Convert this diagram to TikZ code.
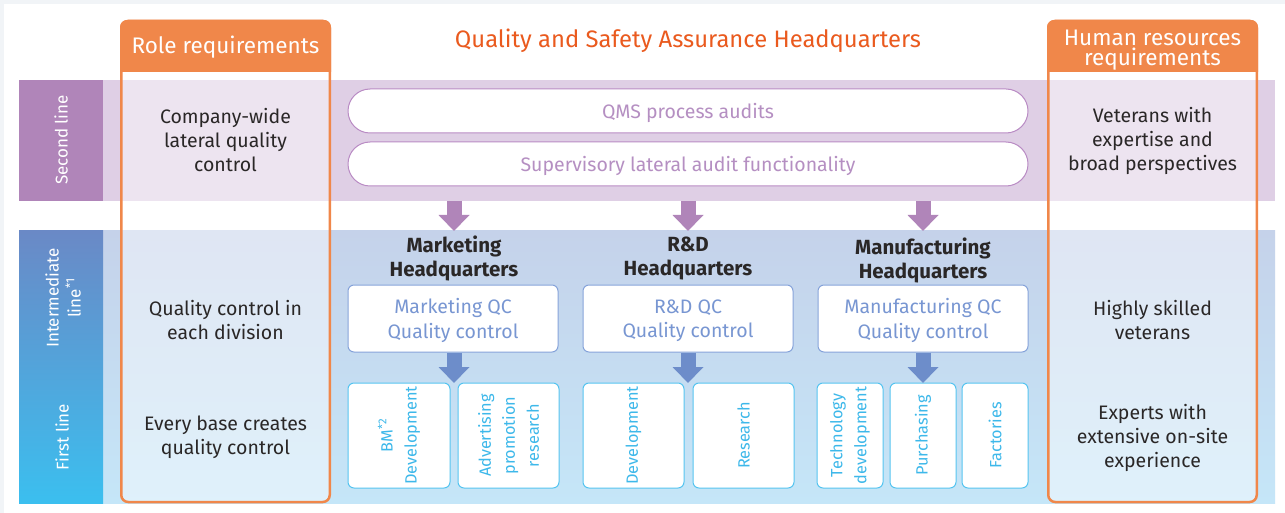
\documentclass[tikz,border=0pt]{standalone}
\usepackage{fontspec}
\setmainfont{Fira Sans}
\usetikzlibrary{arrows.meta}
\definecolor{bgGray}{HTML}{F1F4F7}
\definecolor{orangeC}{HTML}{F0874A}
\definecolor{titleC}{HTML}{EA5A1E}
\definecolor{textDark}{HTML}{2A2727}
\definecolor{purpleBand}{HTML}{DFCFE5}
\definecolor{purpleLabel}{HTML}{B085B9}
\definecolor{pillBorder}{HTML}{B98BC4}
\definecolor{pillText}{HTML}{B58FC2}
\definecolor{blueTop}{HTML}{C5D2EA}
\definecolor{blueBot}{HTML}{C5E6F8}
\definecolor{labTop}{HTML}{6A89C6}
\definecolor{labMid}{HTML}{5A9FD8}
\definecolor{labBot}{HTML}{3BBFEF}
\definecolor{qcBorder}{HTML}{86A3DA}
\definecolor{qcText}{HTML}{7896D2}
\definecolor{blueArrow}{HTML}{6D8DCA}
\definecolor{leafBorder}{HTML}{55C4F0}
\definecolor{leafText}{HTML}{3DB8EA}
\begin{document}
\begin{tikzpicture}[x=1pt,y=-1pt,
  bodytext/.style={text=textDark, font=\fontsize{19.5}{24}\selectfont, align=center, inner sep=0pt},
  headtext/.style={text=white, font=\fontsize{22.5}{21}\selectfont, align=center, inner sep=0pt},
  pill/.style={draw=pillBorder, fill=white, line width=1pt, rounded corners=22pt, minimum width=680pt, minimum height=44pt, text=pillText, font=\fontsize{19.5}{22}\selectfont, inner sep=0pt, text depth=-1pt},
  qcbox/.style={draw=qcBorder, fill=white, line width=1pt, rounded corners=6pt, minimum width=210pt, minimum height=67pt, text=qcText, align=center, font=\fontsize{19.5}{24.5}\selectfont, inner sep=0pt, text depth=-2.5pt},
  leafbox/.style={draw=leafBorder, fill=white, line width=1pt, rounded corners=6pt, rotate=90, minimum width=105pt, text=leafText, align=center, font=\fontsize{16.3}{24}\selectfont, inner sep=0pt},
  hqtitle/.style={font=\bfseries\fontsize{20.5}{24}\selectfont, align=center, text=textDark, inner sep=0pt},
  linelabel/.style={rotate=90, text=white, font=\fontsize{17}{22}\selectfont, align=center, inner sep=0pt},
  purplearrow/.style={draw=purpleLabel, line width=15pt, -{Triangle[width=30pt,length=16pt]}},
  bluearrow/.style={draw=blueArrow, line width=15pt, -{Triangle[width=30pt,length=16pt]}}
]
\useasboundingbox (0,0) rectangle (1285,513);
\fill[bgGray] (0,0) rectangle (1285,513);
\fill[white] (4,4) rectangle (1285,513);

% bands
\fill[purpleBand] (103,80) rectangle (1275,201);
\shade[top color=blueTop, bottom color=blueBot] (103,231) rectangle (1275,503);
\fill[purpleLabel] (19,80) rectangle (103,201);
\shade[top color=labTop, middle color=labMid, bottom color=labBot] (19,231) rectangle (103,503);

% line labels
\node[linelabel] (lab2) at (61,140) {Second line};
\node[linelabel] (labI) at (63,298) {Intermediate\\line\textsuperscript{*1}};
\node[linelabel] (lab1) at (62,437) {First line};

% role requirements column
\fill[white, fill opacity=0.45, rounded corners=7pt] (121,72) rectangle (330,502);
\fill[orangeC] (120,72) [rounded corners=7pt]-- (120,20) -- (331,20) [sharp corners]-- (331,72) -- cycle;
\draw[orangeC, line width=2.5pt, rounded corners=7pt] (121.25,21) rectangle (329.75,502);
\node[headtext] (roleHead) at (225.5,47) {Role requirements};

% human resources column
\fill[white, fill opacity=0.45, rounded corners=7pt] (1048,72) rectangle (1256,502);
\fill[orangeC] (1047,72) [rounded corners=7pt]-- (1047,20) -- (1258,20) [sharp corners]-- (1258,72) -- cycle;
\draw[orangeC, line width=2.5pt, rounded corners=7pt] (1048.25,21) rectangle (1256.75,502);
\node[headtext] (hrHead) at (1152.5,50) {Human resources\\[-1pt]requirements};

% title
\node[text=titleC, font=\fontsize{23.8}{26}\selectfont, inner sep=0pt] (title) at (688,41) {Quality and Safety Assurance Headquarters};

% column texts
\node[bodytext] (role2) at (225.5,140) {Company-wide\\lateral quality\\control};
\node[bodytext] (roleI) at (225.5,320) {Quality control in\\each division};
\node[bodytext] (role1) at (225.5,437) {Every base creates\\quality control};
\node[bodytext] (hr2) at (1152.5,141) {Veterans with\\expertise and\\broad perspectives};
\node[bodytext] (hrI) at (1152.5,320) {Highly skilled\\veterans};
\node[bodytext] (hr1) at (1152.5,438) {Experts with\\extensive on-site\\experience};

% pills
\node[pill] (qms) at (688,111) {QMS process audits};
\node[pill] (sup) at (688,164) {Supervisory lateral audit functionality};

% purple arrows
\coordinate (pa1s) at (454,201); \coordinate (pa1e) at (454,231);
\coordinate (pa2s) at (688,201); \coordinate (pa2e) at (688,231);
\coordinate (pa3s) at (923,201); \coordinate (pa3e) at (923,231);
\draw[purplearrow] (pa1s) -- (pa1e);
\draw[purplearrow] (pa2s) -- (pa2e);
\draw[purplearrow] (pa3s) -- (pa3e);

% headquarters titles
\node[hqtitle] (mktHQ) at (454,258) {Marketing\\Headquarters};
\node[hqtitle] (rdHQ) at (688,258) {R\&D\\Headquarters};
\node[hqtitle] (mfgHQ) at (923,260) {Manufacturing\\Headquarters};

% QC boxes
\node[qcbox] (mktQC) at (453,318.5) {Marketing QC\\Quality control};
\node[qcbox] (rdQC) at (688,318.5) {R\&D QC\\Quality control};
\node[qcbox] (mfgQC) at (923,318.5) {Manufacturing QC\\Quality control};

% leaf boxes
\node[leafbox, minimum height=102pt] (bm) at (399,435.5) {BM\textsuperscript{*2}\\Development};
\node[leafbox, minimum height=101pt] (adv) at (508.5,435.5) {Advertising\\promotion\\research};
\node[leafbox, minimum height=101pt] (dev) at (633.5,435.5) {Development};
\node[leafbox, minimum height=101pt] (res) at (743.5,435.5) {Research};
\node[leafbox, minimum height=66pt] (tech) at (850,435.5) {Technology\\development};
\node[leafbox, minimum height=66pt] (pur) at (923,435.5) {Purchasing};
\node[leafbox, minimum height=66pt] (fac) at (995,435.5) {Factories};

% blue arrows
\coordinate (ba1) at (mktQC.south -| pa1s); \coordinate (ba1e) at (454,383);
\coordinate (ba2) at (rdQC.south -| pa2s); \coordinate (ba2e) at (688,383);
\coordinate (ba3) at (mfgQC.south -| pa3s); \coordinate (ba3e) at (923,383);
\draw[bluearrow] (ba1) -- (ba1e);
\draw[bluearrow] (ba2) -- (ba2e);
\draw[bluearrow] (ba3) -- (ba3e);
\end{tikzpicture}
\end{document}
